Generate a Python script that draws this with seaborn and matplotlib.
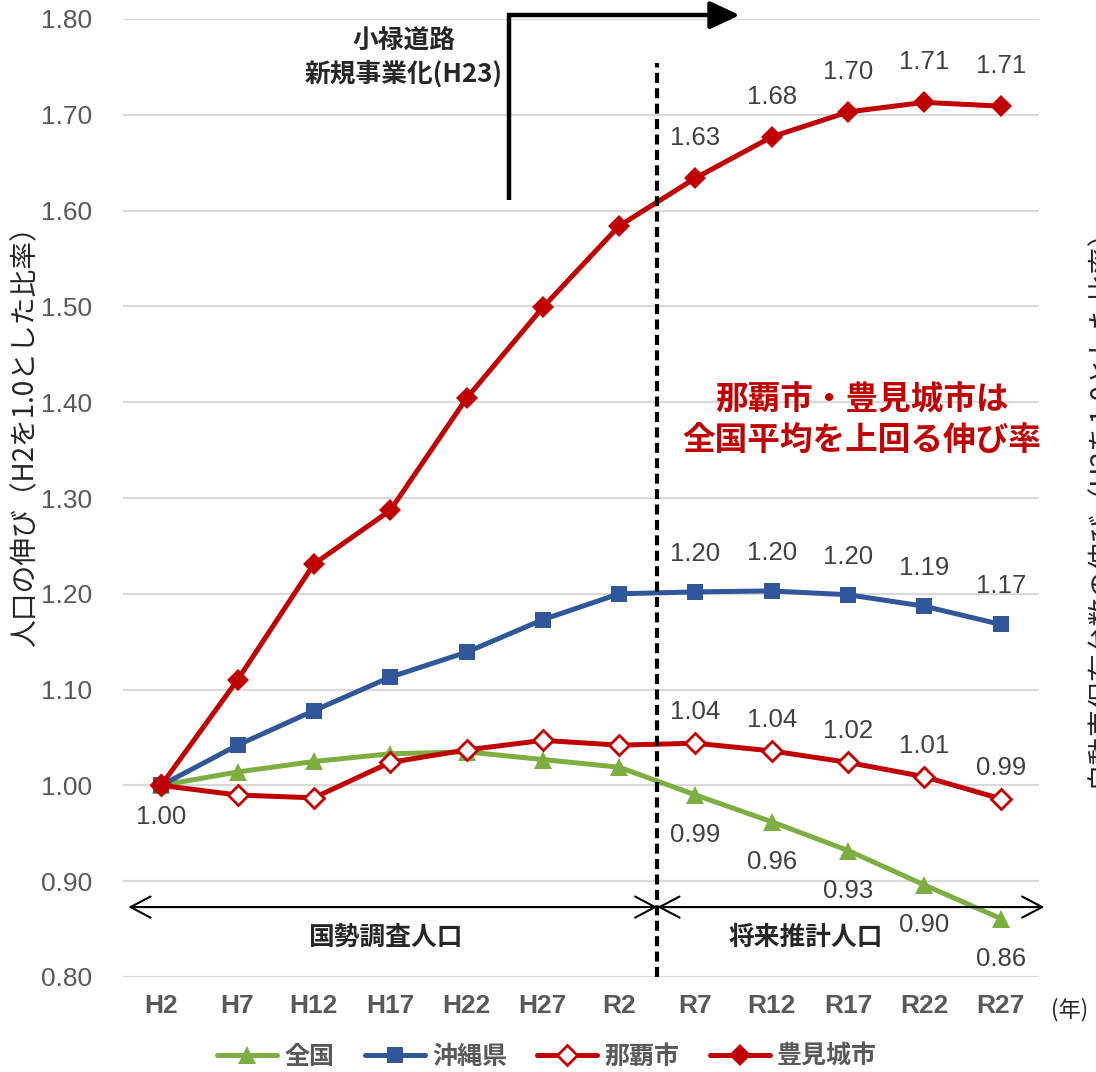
import matplotlib
matplotlib.use('Agg')
import matplotlib.pyplot as plt
import seaborn as sns
import numpy as np
import pandas as pd
from matplotlib.font_manager import FontProperties

# ---------------- data ----------------
years = ['H2', 'H7', 'H12', 'H17', 'H22', 'H27', 'R2', 'R7', 'R12', 'R17', 'R22', 'R27']
zenkoku = [1.000, 1.014, 1.025, 1.033, 1.035, 1.027, 1.019, 0.990, 0.962, 0.932, 0.896, 0.861]
okinawa = [1.000, 1.042, 1.078, 1.113, 1.139, 1.173, 1.200, 1.202, 1.203, 1.199, 1.187, 1.168]
naha = [1.000, 0.990, 0.987, 1.024, 1.037, 1.047, 1.042, 1.044, 1.036, 1.024, 1.009, 0.986]
tomigusuku = [1.000, 1.110, 1.231, 1.287, 1.404, 1.499, 1.584, 1.634, 1.677, 1.703, 1.713, 1.709]
series_names = ['全国', '沖縄県', '那覇市', '豊見城市']
yticks = [0.80, 0.90, 1.00, 1.10, 1.20, 1.30, 1.40, 1.50, 1.60, 1.70, 1.80]

GREEN = '#7DAE42'
BLUE = '#30579A'
RED = '#C00000'
GRAY = '#595959'
LABEL_GRAY = '#404040'
CJK = ['Noto Sans CJK JP', 'DejaVu Sans']
NUM = ['Liberation Sans', 'DejaVu Sans']

sns.set_style('white')
plt.rcParams['font.family'] = ['Liberation Sans', 'Noto Sans CJK JP', 'DejaVu Sans']

fig = plt.figure(figsize=(10.96, 10.72), dpi=100)
ax = fig.add_axes([123 / 1096, 1 - 977 / 1072, (1039 - 123) / 1096, (977 - 19) / 1072])

xpos = np.arange(len(years))
df = pd.DataFrame({'x': xpos, '全国': zenkoku, '沖縄県': okinawa,
                   '那覇市': naha, '豊見城市': tomigusuku})

LW = 3.6
sns.lineplot(data=df, x='x', y='全国', ax=ax, color=GREEN, lw=LW, marker='^',
             markersize=13, markeredgecolor=GREEN, markeredgewidth=0, label='全国')
sns.lineplot(data=df, x='x', y='沖縄県', ax=ax, color=BLUE, lw=LW, marker='s',
             markersize=11, markeredgecolor=BLUE, markeredgewidth=0, label='沖縄県')
sns.lineplot(data=df, x='x', y='那覇市', ax=ax, color=RED, lw=LW, marker='D',
             markersize=10, markerfacecolor='white', markeredgecolor=RED,
             markeredgewidth=2, label='那覇市')
sns.lineplot(data=df, x='x', y='豊見城市', ax=ax, color=RED, lw=LW, marker='D',
             markersize=11, markeredgecolor=RED, markeredgewidth=0, label='豊見城市')

handles, labels = ax.get_legend_handles_labels()
if ax.get_legend() is not None:
    ax.get_legend().remove()

# axes styling
ax.set_xlim(-0.5, 11.5)
ax.set_ylim(0.80, 1.80)
ax.set_yticks(yticks)
ax.set_yticklabels([f'{v:.2f}' for v in yticks], fontsize=19, color=GRAY, family=NUM)
ax.set_xticks(xpos)
ax.set_xticklabels(years, fontsize=19, color=GRAY, family=NUM, fontweight='bold')
ax.tick_params(axis='y', length=0, pad=22)
ax.tick_params(axis='x', length=0, pad=12)
ax.set_xlabel('')
ax.set_ylabel('')
for s in ax.spines.values():
    s.set_visible(False)
ax.yaxis.grid(True, color='#d9d9d9', lw=1.6)
ax.xaxis.grid(False)
ax.set_axisbelow(True)

# data labels
def lab(x, v, dy):
    ax.annotate(f'{v:.2f}', (x, v), xytext=(0, dy), textcoords='offset pixels',
                ha='center', va='center', fontsize=18.5, color=LABEL_GRAY, family=NUM)

lab(0, zenkoku[0], -32)
for i in range(7, 12):
    lab(i, tomigusuku[i], 40)
    lab(i, okinawa[i], 38)
    lab(i, naha[i], 31)
    lab(i, zenkoku[i], -40)

# dashed divider
ax.plot([6.5, 6.5], [0.80, 1.754], color='black', lw=3, ls=(0, (2.4, 1.3)), clip_on=False)

# double arrows
arrow_kw = dict(arrowstyle='<->,head_length=0.72,head_width=0.38', lw=1.5,
                color='black', mutation_scale=20, shrinkA=0, shrinkB=0)
ax.annotate('', xy=(-0.43, 0.873), xytext=(6.5, 0.873), arrowprops=arrow_kw,
            annotation_clip=False)
ax.annotate('', xy=(11.57, 0.873), xytext=(6.5, 0.873), arrowprops=arrow_kw,
            annotation_clip=False)
ax.text(2.93, 0.841, '国勢調査人口', ha='center', va='center', fontsize=18.5,
        fontweight='bold', family=CJK)
ax.text(8.44, 0.841, '将来推計人口', ha='center', va='center', fontsize=18.5,
        fontweight='bold', family=CJK)

# top elbow arrow
ax.plot([4.555, 4.555, 7.35], [1.611, 1.804, 1.804], color='black', lw=3.2,
        clip_on=False, solid_joinstyle='miter', solid_capstyle='butt')
ax.annotate('', xy=(7.58, 1.804), xytext=(7.2, 1.804),
            arrowprops=dict(arrowstyle='-|>,head_length=0.9,head_width=0.42',
                            color='black', lw=3.2, mutation_scale=20,
                            shrinkA=0, shrinkB=0),
            annotation_clip=False)
ax.text(3.18, 1.760, '小禄道路\n新規事業化(H23)', ha='center', va='center',
        fontsize=18.5, fontweight='bold', family=CJK, linespacing=1.3,
        multialignment='center')

# red annotation
ax.text(9.18, 1.381, '那覇市・豊見城市は\n全国平均を上回る伸び率', ha='center', va='center',
        fontsize=23.5, fontweight='bold', color=RED, family=CJK, linespacing=1.3,
        multialignment='center')

# axis titles
fig.text(25 / 1096, 1 - 430 / 1072, '人口の伸び（H2を1.0とした比率）', rotation=90,
         ha='center', va='center', fontsize=20, family=CJK)
fig.text(1100 / 1096, 1 - 500 / 1072, '自動車保有台数の伸び（H2を1.0とした比率）', rotation=90,
         ha='center', va='center', fontsize=20, family=CJK)
fig.text(1051 / 1096, 1 - 1010 / 1072, '(年)', ha='left', va='center',
         fontsize=16, family=CJK)

# legend
fig.legend(handles, labels, loc='center', bbox_to_anchor=(547 / 1096, 1 - 1057 / 1072),
           ncol=4, frameon=False,
           prop=FontProperties(family=CJK, weight='bold', size=18),
           labelcolor=GRAY, handlelength=2.4, columnspacing=1.2, handletextpad=0.3)

fig.savefig('out.png', dpi=100)
